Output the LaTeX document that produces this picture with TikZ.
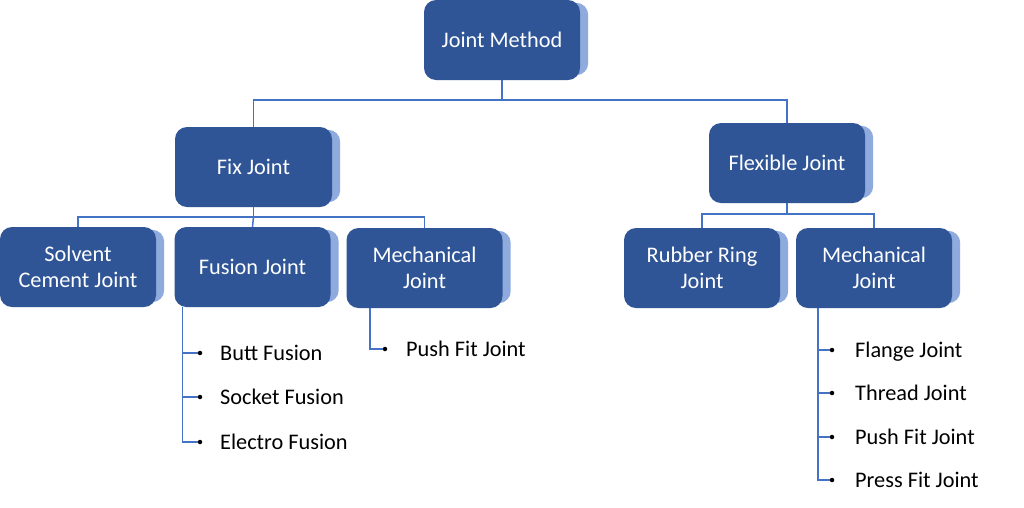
\documentclass[tikz,border=0pt]{standalone}
\usepackage{fontspec}
\setmainfont{Carlito}
\usetikzlibrary{backgrounds,calc}
\definecolor{boxblue}{HTML}{2F5597}
\definecolor{shadowblue}{HTML}{8FAADC}
\definecolor{lineblue}{HTML}{4472C4}
\tikzset{
  box/.style={draw=none, fill=boxblue, text=white, rounded corners=12pt,
    minimum width=156pt, minimum height=80pt, align=center, inner sep=2pt,
    font=\fontsize{22.3}{26}\selectfont},
  conn/.style={draw=lineblue, line width=1.5pt},
  item/.style={anchor=base west, inner sep=0pt, text=black,
    font=\fontsize{22.3}{26}\selectfont},
  dotnode/.style={circle, fill=black, inner sep=0pt, minimum size=4.5pt},
}
\newcommand{\shadowof}[1]{%
  \fill[shadowblue, rounded corners=12pt] ($(#1.north west)+(8,3)$) rectangle ($(#1.south east)+(8,-5)$);}
\begin{document}
\begin{tikzpicture}[x=1pt,y=-1pt]
\useasboundingbox (0,0) rectangle (1024,507);
% boxes
\node[box] (jm) at (502,40) {Joint Method};
\node[box, minimum width=157pt] (fix) at (253.5,167) {Fix Joint};
\node[box] (flex) at (787,163) {Flexible Joint};
\node[box] (sol) at (78,267) {Solvent\\Cement Joint};
\node[box] (fus) at (252.5,267) {Fusion Joint};
\node[box] (mec1) at (424.5,268) {Mechanical\\Joint};
\node[box] (rub) at (702,268) {Rubber Ring\\Joint};
\node[box] (mec2) at (874,268) {Mechanical\\Joint};
\begin{scope}[on background layer]
\fill[white] (0,0) rectangle (1024,507);
\shadowof{jm}\shadowof{fix}\shadowof{flex}\shadowof{sol}\shadowof{fus}\shadowof{mec1}\shadowof{rub}\shadowof{mec2}
\end{scope}
% tree connectors
\coordinate (b1) at (502,100);
\coordinate (b2) at (253.5,217);
\coordinate (b3) at (787,214);
\draw[conn] (jm.south) -- (b1);
\draw[conn] (fix.north) |- (b1) -| (flex.north);
\draw[conn] (fix.south) -- (b2);
\draw[conn] (sol.north) |- (b2) -| (mec1.north);
\draw[conn] (b2) -- (fus.north);
\draw[conn] (flex.south) -- (b3);
\draw[conn] (rub.north) |- (b3) -| (mec2.north);
% fusion items
\node[dotnode] (d1) at (200,353) {};
\node[dotnode] (d2) at (200,397) {};
\node[dotnode] (d3) at (200,442) {};
\node[item] (t1) at (220,360) {Butt Fusion};
\node[item] (t2) at (220,404) {Socket Fusion};
\node[item] (t3) at (220,449) {Electro Fusion};
\coordinate (fv) at ([xshift=8pt]fus.south west);
\draw[conn] (fv) |- (d1);
\draw[conn] (fv) |- (d2);
\draw[conn] (fv) |- (d3);
% mechanical left
\node[dotnode] (d4) at (385,349) {};
\node[item] (t4) at (406,356) {Push Fit Joint};
\coordinate (mv1) at (370,308);
\draw[conn] (mv1) |- (d4);
% mechanical right
\node[dotnode] (e1) at (832,350) {};
\node[dotnode] (e2) at (832,393) {};
\node[dotnode] (e3) at (832,437) {};
\node[dotnode] (e4) at (832,480) {};
\node[item] (u1) at (855,357) {Flange Joint};
\node[item] (u2) at (855,400) {Thread Joint};
\node[item] (u3) at (855,444) {Push Fit Joint};
\node[item] (u4) at (855,487) {Press Fit Joint};
\coordinate (mv2) at (818,308);
\draw[conn] (mv2) |- (e1);
\draw[conn] (mv2) |- (e2);
\draw[conn] (mv2) |- (e3);
\draw[conn] (mv2) |- (e4);
\end{tikzpicture}
\end{document}
